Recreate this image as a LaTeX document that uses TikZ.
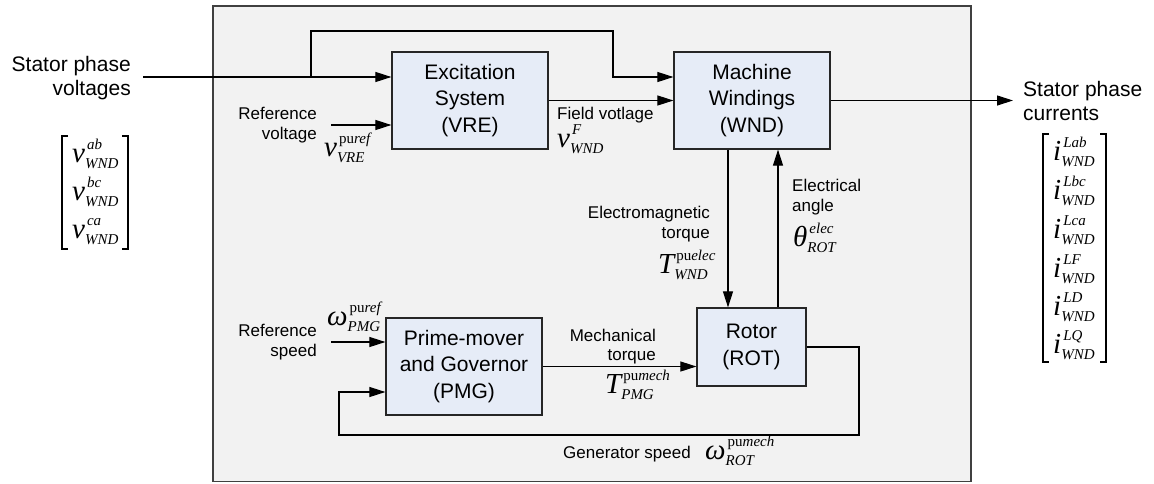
\documentclass[tikz,border=0pt]{standalone}
\usepackage{fontspec}
\setmainfont{Liberation Sans}
\newfontfamily\serif{Liberation Serif}
\usetikzlibrary{arrows.meta}
\definecolor{frameFill}{HTML}{F2F2F2}
\definecolor{blockFill}{HTML}{E6ECF7}
\definecolor{frameLine}{HTML}{404040}
\newcommand\mvscr[2]{{\fontsize{15}{15}\selectfont\serif
  \setbox0=\hbox{\kern2pt #1}\setbox2=\hbox{\itshape #2}%
  \dimen0=\wd0 \ifdim\wd2>\dimen0 \dimen0=\wd2 \fi
  \rlap{\raise12.5pt\box0}\rlap{\lower6pt\box2}\kern\dimen0}}
\newcommand\mv[3]{\mbox{\fontsize{29}{29}\selectfont\serif\itshape #1}\mvscr{#2}{#3}}
\tikzset{
  block/.style={draw=black!85, fill=blockFill, line width=1.2pt, align=center, inner sep=0pt,
    font=\fontsize{21}{26.5}\selectfont},
  lbl/.style={inner sep=0pt, font=\fontsize{17}{20}\selectfont},
  biglbl/.style={inner sep=0pt, font=\fontsize{21}{24}\selectfont},
  sym/.style={inner sep=0pt, anchor=base west},
  arr/.style={-{Triangle[length=16pt,width=10pt]}, line width=1.1pt},
  wire/.style={line width=1.1pt},
  brk/.style={line width=1.3pt}
}
\begin{document}
\begin{tikzpicture}[x=1pt,y=-1pt]
\useasboundingbox (0,0) rectangle (1154,483);
% frame
\draw[fill=frameFill, draw=frameLine, line width=1.4pt] (213,6) rectangle (971,481.5);
% blocks
\node[block, minimum width=156pt, minimum height=97pt] (VRE) at (470,100.5) {Excitation\\System\\(VRE)};
\node[block, minimum width=156pt, minimum height=97pt] (WND) at (752,100.5) {Machine\\Windings\\(WND)};
\node[block, minimum width=156pt, minimum height=97pt] (PMG) at (464,366.5) {Prime-mover\\and Governor\\(PMG)};
\node[block, minimum width=109pt, minimum height=78pt] (ROT) at (751.5,347) {Rotor\\(ROT)};
% coordinates
\coordinate (sin) at (143,77);
\coordinate (br) at (311,77);
\coordinate (bt) at (613,31);
\coordinate (rv) at (331,125);
\coordinate (rs) at (331,342);
\coordinate (sout) at (1013,100.5);
\coordinate (fb1) at (859,435);
\coordinate (fb2) at (339,435);
% connectors
\draw[arr] (sin) -- (sin -| VRE.west);
\draw[arr] (br) |- (bt) |- (sin -| WND.west);
\draw[arr] (VRE.east) -- (WND.west);
\draw[arr] (rv) -- (rv -| VRE.west);
\draw[arr] (WND.east) -- (sout);
\draw[arr] ([xshift=-24pt]WND.south) -- ([xshift=-24pt]WND.south |- ROT.north);
\draw[arr] ([xshift=26pt]WND.south |- ROT.north) -- ([xshift=26pt]WND.south);
\draw[arr] (PMG.east) -- (PMG.east -| ROT.west);
\draw[arr] (rs) -- (rs -| PMG.west);
\draw[arr] (ROT.east) -| (fb1) -- (fb2) |- ([yshift=-25.5pt]PMG.west);
% labels
\node[biglbl, align=right, anchor=north east] (lsv) at (131,55.9) {Stator phase\\voltages};
\node[biglbl, align=left, anchor=north west] (lsc) at (1023,80.9) {Stator phase\\currents};
\node[lbl, align=right, anchor=north east] (lrv) at (317,106.8) {Reference\\voltage};
\node[lbl, align=right, anchor=north east] (lrs) at (317,323.8) {Reference\\speed};
\node[lbl, anchor=base west] (lfv) at (557,119) {Field votlage};
\node[lbl, align=right, anchor=north east] (let) at (710,205.8) {Electromagnetic\\torque};
\node[lbl, align=left, anchor=north west] (lea) at (792,178.8) {Electrical\\angle};
\node[lbl, align=right, anchor=north east, font=\fontsize{17}{19}\selectfont] (lmt) at (656,328.8) {Mechanical\\torque};
\node[lbl, anchor=base west] (lgs) at (563,458) {Generator speed};
% symbols
\node[sym] (svre) at (324,156) {\mv{v}{pu\itshape ref}{VRE}};
\node[sym] (svf) at (557,147) {\mv{v}{\itshape F}{WND}};
\node[sym] (stw) at (658,273) {\mv{T}{pu\itshape elec}{WND}};
\node[sym] (sth) at (793,246) {\mv{θ}{\itshape elec}{ROT}};
\node[sym] (stp) at (605,393) {\mv{T}{pu\itshape mech}{PMG}};
\node[sym] (swp) at (327,325) {\mv{ω}{pu\itshape ref}{PMG}};
\node[sym] (swr) at (705,459) {\mv{ω}{pu\itshape mech}{ROT}};
% left matrix
\node[sym] (va) at (72,162) {\mv{v}{\itshape ab}{WND}};
\node[sym] (vb) at (72,200) {\mv{v}{\itshape bc}{WND}};
\node[sym] (vc) at (72,238) {\mv{v}{\itshape ca}{WND}};
\draw[brk] (68,136) -- (62,136) -- (62,249) -- (68,249);
\draw[brk] (122,136) -- (128,136) -- (128,249) -- (122,249);
% right matrix
\node[sym] (ia) at (1053,160) {\mv{i}{\itshape Lab}{WND}};
\node[sym] (ib) at (1053,199) {\mv{i}{\itshape Lbc}{WND}};
\node[sym] (ic) at (1053,238) {\mv{i}{\itshape Lca}{WND}};
\node[sym] (id) at (1053,277) {\mv{i}{\itshape LF}{WND}};
\node[sym] (ie) at (1053,315) {\mv{i}{\itshape LD}{WND}};
\node[sym] (ig) at (1053,353) {\mv{i}{\itshape LQ}{WND}};
\draw[brk] (1049,134) -- (1043,134) -- (1043,362) -- (1049,362);
\draw[brk] (1100,134) -- (1106,134) -- (1106,362) -- (1100,362);
\end{tikzpicture}
\end{document}
